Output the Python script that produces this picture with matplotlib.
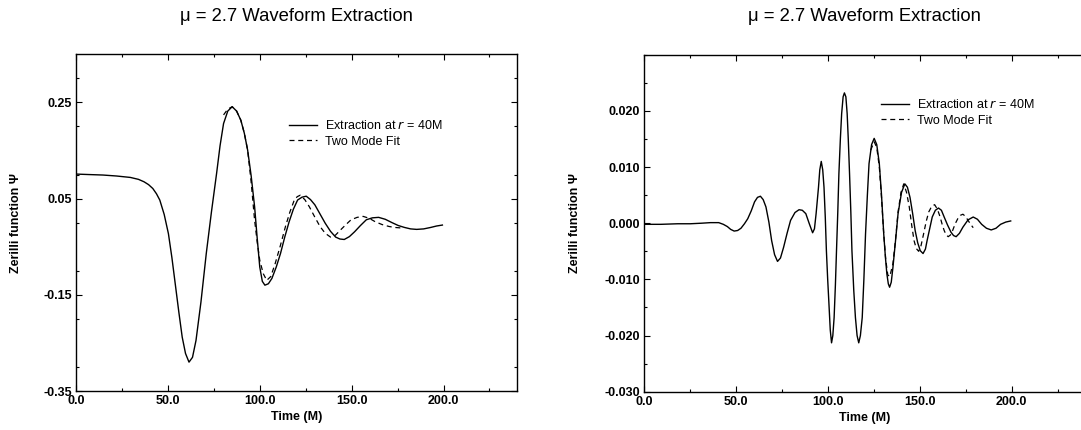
import matplotlib
matplotlib.use("Agg")
import matplotlib.pyplot as plt
from matplotlib.ticker import MultipleLocator, FixedLocator

plt.rcParams['font.family'] = ['Liberation Sans', 'DejaVu Sans']

# ---------------- data ----------------
title_text = "\u03bc = 2.7 Waveform Extraction"
x_label = "Time (M)"
y_label = "Zerilli function \u03a8"
legend_labels = ["Extraction at $r$ = 40M", "Two Mode Fit"]

# Left panel
left_t_ext = [0, 7, 14.6, 22, 29.6, 34, 37, 39.5, 41.8, 43.8, 45.6, 48, 50.3, 52.2, 54, 56, 57.8,
              59.6, 61.5, 63.4, 65.3, 68, 70.9, 73.7, 76.5, 78.4, 80.3, 82.6, 85, 87.4, 89.7,
              91.6, 93.4, 95.3, 97.2, 98.6, 100, 101.4, 102.8, 104.7, 106.6, 109, 111.3, 113.6,
              116, 118.3, 120.6, 123, 125.3, 127.6, 130, 132.8, 135.6, 138.5, 141.3, 143.6,
              146, 148.8, 151.6, 154.8, 158, 161.3, 164.7, 168.3, 172, 175.4, 178.8, 182.1,
              185.4, 189.2, 193, 196.2, 199.4]
left_v_ext = [0.101, 0.100, 0.099, 0.097, 0.094, 0.090, 0.085, 0.079, 0.071, 0.060, 0.047, 0.017,
              -0.023, -0.073, -0.127, -0.187, -0.238, -0.272, -0.290, -0.280, -0.245, -0.165,
              -0.064, 0.022, 0.102, 0.160, 0.206, 0.232, 0.241, 0.232, 0.213, 0.186, 0.151,
              0.098, 0.033, -0.032, -0.092, -0.122, -0.130, -0.127, -0.116, -0.092, -0.064,
              -0.030, 0.002, 0.028, 0.047, 0.053, 0.055, 0.048, 0.037, 0.018, -0.001, -0.018,
              -0.030, -0.034, -0.035, -0.029, -0.019, -0.006, 0.006, 0.010, 0.011, 0.007, 0.000,
              -0.006, -0.010, -0.013, -0.014, -0.013, -0.010, -0.007, -0.005]

left_t_fit = [80.3, 82.6, 85, 87.4, 89.7, 91.6, 93.4, 95.3, 97.2, 98.6, 100, 101.9, 103.8, 106,
              108.4, 111.2, 114, 116.4, 118.8, 120.4, 122, 124.5, 127, 129.9, 132.8, 135.6,
              138.5, 141.2, 144, 146.9, 149.7, 153, 156.3, 159.6, 162.8, 166.6, 170.4, 173.6,
              176.9, 178.5]
left_v_fit = [0.224, 0.236, 0.241, 0.232, 0.213, 0.186, 0.151, 0.085, 0.005, -0.040, -0.078,
              -0.106, -0.120, -0.112, -0.085, -0.048, -0.008, 0.022, 0.047, 0.054, 0.057, 0.048,
              0.033, 0.012, -0.008, -0.022, -0.030, -0.026, -0.015, -0.004, 0.006, 0.011, 0.013,
              0.009, 0.002, -0.004, -0.008, -0.010, -0.011, -0.010]

# Right panel
right_t_ext = [0, 9, 18.2, 25, 31.2, 36, 40.5, 43, 45.2, 47, 48.9, 50.8, 52.6, 54.5, 56.3, 58.2,
               60, 61.6, 63.2, 64.7, 66.2, 67.8, 69.3, 70.9, 72.5, 74.1, 75.8, 77.7, 79.6, 82,
               84.2, 86, 87.9, 89.8, 91.6, 92.6, 93.5, 94.8, 95.5, 96.3, 97.1, 97.8, 98.5, 99.1,
               99.8, 100.4, 101.2, 101.9, 102.6, 103.3, 104, 104.6, 105.3, 105.9, 106.7, 107.4,
               108.2, 108.9, 109.7, 110.4, 111, 111.7, 112.4, 113, 114, 114.9, 115.8, 116.7,
               117.6, 118.6, 119.5, 120.4, 121.4, 122.3, 123.7, 125.1, 126.5, 127.9, 129.1,
               130.3, 131.2, 132, 132.8, 133.5, 134.4, 135.3, 136.7, 138.1, 140, 141.8, 143.2,
               144.6, 146, 147.4, 148.8, 150.2, 151.7, 153, 153.9, 155.3, 156.7, 158.4, 160.1,
               161.7, 163.2, 165, 166.9, 168.3, 169.7, 171.5, 173.4, 176.2, 179, 181.3, 183.6,
               186.2, 188.8, 191.4, 193.9, 196.7, 199.4]
right_v_ext = [-0.0002, -0.0002, -0.0001, -0.0001, 0.0000, 0.0001, 0.0001, -0.0002, -0.0006,
               -0.0011, -0.0014, -0.0013, -0.0009, -0.0001, 0.0008, 0.0022, 0.0038, 0.0046,
               0.0048, 0.0042, 0.0029, 0.0002, -0.0031, -0.0056, -0.0068, -0.0062, -0.0043,
               -0.0018, 0.0005, 0.0019, 0.0024, 0.0023, 0.0017, -0.0001, -0.0017, -0.0010,
               0.0017, 0.0064, 0.0095, 0.0110, 0.0095, 0.0064, 0.0010, -0.0049, -0.0100,
               -0.0138, -0.0190, -0.0213, -0.0200, -0.0168, -0.0110, -0.0049, 0.0020, 0.0088,
               0.0150, 0.0195, 0.0225, 0.0232, 0.0225, 0.0195, 0.0150, 0.0088, 0.0020, -0.0049,
               -0.0120, -0.0168, -0.0200, -0.0213, -0.0200, -0.0168, -0.0100, -0.0019, 0.0050,
               0.0106, 0.0140, 0.0151, 0.0140, 0.0106, 0.0050, -0.0019, -0.0060, -0.0090,
               -0.0108, -0.0114, -0.0105, -0.0079, -0.0032, 0.0017, 0.0055, 0.0070, 0.0064,
               0.0046, 0.0018, -0.0013, -0.0035, -0.0049, -0.0054, -0.0046, -0.0031, -0.0010,
               0.0011, 0.0023, 0.0027, 0.0023, 0.0011, -0.0003, -0.0016, -0.0022, -0.0024,
               -0.0018, -0.0007, 0.0006, 0.0011, 0.0007, -0.0002, -0.0009, -0.0012, -0.0009,
               -0.0002, 0.0002, 0.0004]

right_t_fit = [123.2, 125.1, 126.5, 127.9, 129.1, 130.3, 131.4, 132.5, 133.6, 135.3, 136.7, 138.1,
               139.7, 141.2, 142.7, 144.2, 145.5, 146.8, 148, 149.3, 150.6, 152, 153.4, 154.8,
               156.4, 158, 159.5, 161, 162.1, 163.2, 164.3, 165.4, 166.6, 167.8, 169.2, 170.6,
               172, 173.4, 174.8, 176.2, 177.6, 179]
right_v_fit = [0.0130, 0.0145, 0.0135, 0.0100, 0.0045, -0.0019, -0.0065, -0.0092, -0.0095,
               -0.0072, -0.0030, 0.0020, 0.0055, 0.0070, 0.0055, 0.0029, -0.0003, -0.0031,
               -0.0045, -0.0050, -0.0040, -0.0019, 0.0003, 0.0020, 0.0030, 0.0033, 0.0025,
               0.0011, -0.0002, -0.0013, -0.0021, -0.0024, -0.0021, -0.0013, -0.0001, 0.0008,
               0.0014, 0.0016, 0.0012, 0.0005, -0.0002, -0.0008]

x_ticks = [0, 50, 100, 150, 200]
x_tick_labels = ["0.0", "50.0", "100.0", "150.0", "200.0"]
left_y_ticks = [-0.35, -0.15, 0.05, 0.25]
left_y_tick_labels = ["-0.35", "-0.15", "0.05", "0.25"]
right_y_ticks = [-0.030, -0.020, -0.010, 0.000, 0.010, 0.020]
right_y_tick_labels = ["-0.030", "-0.020", "-0.010", "0.000", "0.010", "0.020"]

# ---------------- figure ----------------
W, H = 1081, 430
fig = plt.figure(figsize=(W / 100, H / 100), dpi=100)

def px_axes(x0, y0, x1, y1):
    return fig.add_axes([x0 / W, 1 - y1 / H, (x1 - x0) / W, (y1 - y0) / H])

axL = px_axes(76, 54.3, 517, 391)
axR = px_axes(644.3, 54.7, 1085.3, 391.7)

def style(ax, yticks, ylabels, ylim, yminor, ylabel_x, legend_xy, right_ticks=True):
    ax.set_xlim(0, 240)
    ax.set_ylim(*ylim)
    ax.xaxis.set_major_locator(FixedLocator(x_ticks))
    ax.set_xticklabels(x_tick_labels)
    ax.xaxis.set_minor_locator(MultipleLocator(25))
    ax.yaxis.set_major_locator(FixedLocator(yticks))
    ax.set_yticklabels(ylabels)
    ax.yaxis.set_minor_locator(MultipleLocator(yminor))
    ax.tick_params(which='both', direction='in', top=True, right=right_ticks, width=0.8,
                   labelsize=9, pad=3)
    ax.tick_params(which='major', length=4)
    ax.tick_params(which='minor', length=2)
    for lab in ax.get_xticklabels() + ax.get_yticklabels():
        lab.set_fontweight('bold')
    for s in ax.spines.values():
        s.set_linewidth(1.0)
    ax.set_title(title_text, fontsize=13.3, pad=24)
    ax.set_xlabel(x_label, fontsize=9, fontweight='bold', labelpad=3)
    ax.set_ylabel(y_label, fontsize=9, fontweight='bold')
    ax.yaxis.set_label_coords(ylabel_x, 0.5)
    leg = ax.legend(frameon=False, fontsize=9, loc='upper left',
                    bbox_to_anchor=legend_xy, bbox_transform=fig.transFigure,
                    handlelength=2.2, handletextpad=0.65, labelspacing=0.3,
                    borderpad=0, borderaxespad=0)
    return leg

axL.plot(left_t_ext, left_v_ext, color='black', lw=1.0, label=legend_labels[0])
axL.plot(left_t_fit, left_v_fit, color='black', lw=0.9, ls=(0, (4, 3)), label=legend_labels[1])
style(axL, left_y_ticks, left_y_tick_labels, (-0.35, 0.35), 0.1,
      (22 - 76) / 441, (289 / W, 1 - 119 / H))

axR.plot(right_t_ext, right_v_ext, color='black', lw=1.0, label=legend_labels[0])
axR.plot(right_t_fit, right_v_fit, color='black', lw=0.9, ls=(0, (4, 3)), label=legend_labels[1])
style(axR, right_y_ticks, right_y_tick_labels, (-0.03, 0.03), 0.005,
      (581 - 644.3) / 441, (881 / W, 1 - 98 / H), right_ticks=False)

fig.savefig("out.png", dpi=100)
